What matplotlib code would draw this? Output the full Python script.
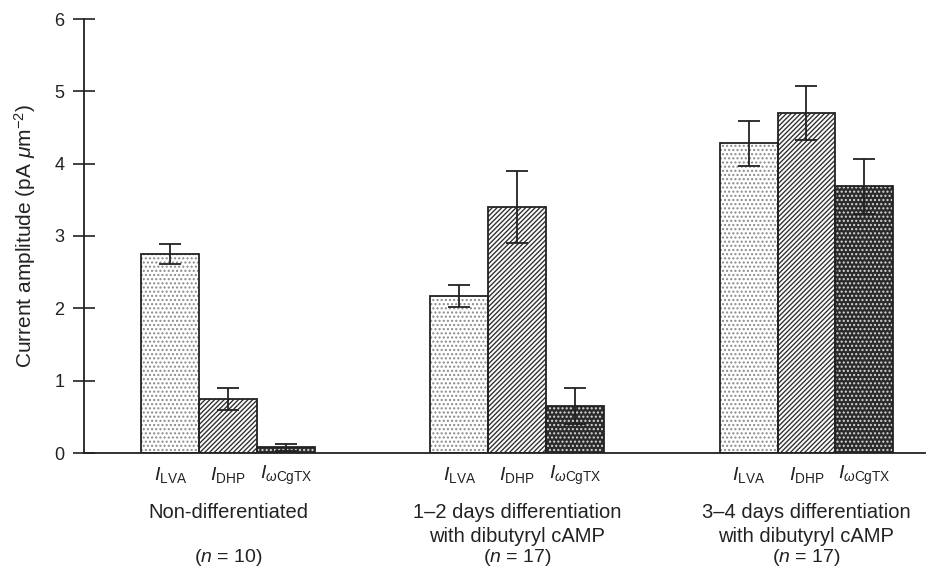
import matplotlib.pyplot as plt
import numpy as np

plt.rcParams['font.family'] = ['Liberation Sans', 'DejaVu Sans']
plt.rcParams['mathtext.fontset'] = 'custom'
plt.rcParams['mathtext.rm'] = 'Liberation Sans'
plt.rcParams['mathtext.it'] = 'Liberation Sans:italic'

# Data
groups = [['Non-differentiated'],
          ['1\u20132 days differentiation', 'with dibutyryl cAMP'],
          ['3\u20134 days differentiation', 'with dibutyryl cAMP']]
n_labels = ['($n$ = 10)', '($n$ = 17)', '($n$ = 17)']
currents = [r'$I_{\rm LVA}$', r'$I_{\rm DHP}$', r'$I_{\omega{\rm CgTX}}$']
lva = [2.75, 2.17, 4.28]
lva_err = [0.14, 0.15, 0.31]
dhp = [0.75, 3.40, 4.70]
dhp_err = [0.15, 0.50, 0.37]
cgtx = [0.08, 0.65, 3.69]
cgtx_err = [0.05, 0.25, 0.38]

fig = plt.figure(figsize=(9.42, 5.73), dpi=100)
ax = fig.add_axes([84 / 942, 1 - 453 / 573, (925 - 84) / 942, (453 - 19) / 573])

x = np.arange(len(groups))
w = 0.2
plt.rcParams['hatch.linewidth'] = 1.0

series = [
    (lva, lva_err, -w, 'white', '....', '#8a8a8a'),
    (dhp, dhp_err, 0, 'white', '///////', '#333333'),
    (cgtx, cgtx_err, w, '#2b2b2b', '....', '#d8d8d8'),
]
for vals, errs, off, fc, hatch, hc in series:
    ax.bar(x + off, vals, w, color=fc, hatch=hatch, edgecolor=hc, linewidth=0, zorder=2)
    ax.bar(x + off, vals, w, fill=False, edgecolor='#222222', linewidth=1.3, zorder=3)
    ax.errorbar(x + off, vals, yerr=errs, fmt='none', ecolor='#222222',
                elinewidth=1.3, capsize=8, capthick=1.3, zorder=4)

ax.set_xlim(-0.498, 2.41)
ax.set_ylim(0, 6)
ax.set_yticks(range(7))
ax.tick_params(axis='y', direction='inout', length=16, width=1.2, labelsize=13, pad=6,
               colors='#222222')
ax.set_xticks([])
ax.spines['top'].set_visible(False)
ax.spines['right'].set_visible(False)
for s in ['left', 'bottom']:
    ax.spines[s].set_linewidth(1.3)
    ax.spines[s].set_color('#222222')
ax.set_ylabel(r'Current amplitude (pA $\mu$m$^{-2}$)', fontsize=15, labelpad=12,
              color='#222222')

# labels below the axis
for i in range(len(groups)):
    for j, off in enumerate([-w, 0, w]):
        ax.annotate(currents[j], (x[i] + off, 0), xytext=(0, -22),
                    textcoords='offset pixels', ha='center', va='center', fontsize=14,
                    color='#222222')
    for k, line in enumerate(groups[i]):
        ax.annotate(line, (x[i], 0), xytext=(0, -59 - 24 * k), textcoords='offset pixels',
                    ha='center', va='center', fontsize=14.5, color='#222222')
    ax.annotate(n_labels[i], (x[i], 0), xytext=(0, -105), textcoords='offset pixels',
                ha='center', va='center', fontsize=14, color='#222222')

fig.savefig('out.png', dpi=100)
